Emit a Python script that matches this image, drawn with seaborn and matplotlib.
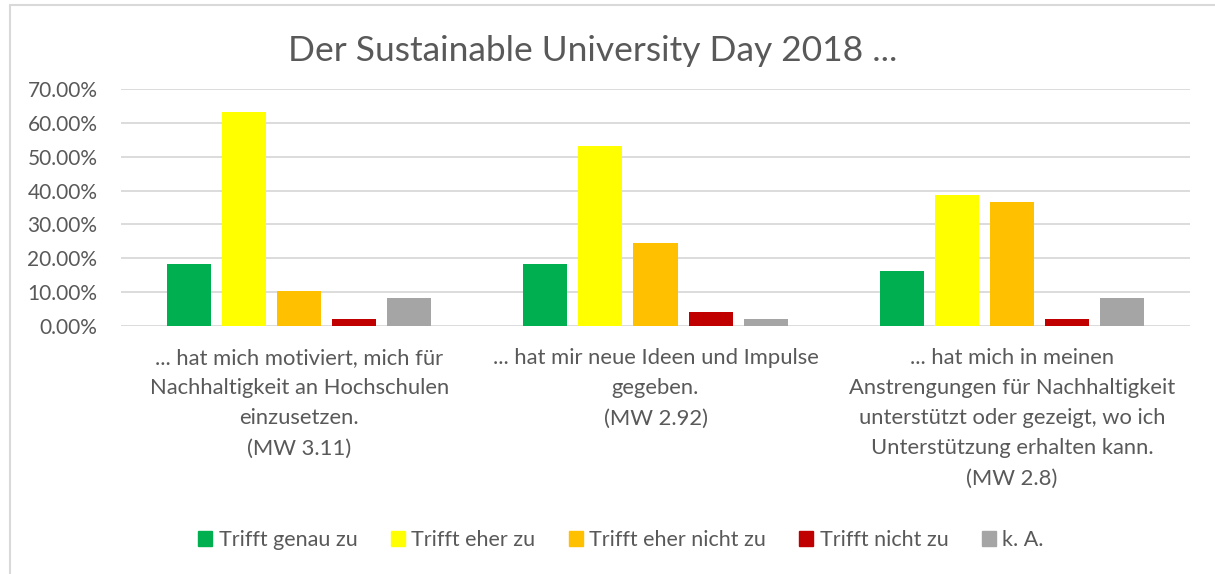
import numpy as np
import pandas as pd
import matplotlib
matplotlib.use("Agg")
import matplotlib.pyplot as plt
from matplotlib.lines import Line2D
from matplotlib.ticker import FuncFormatter
import seaborn as sns

sns.set_theme(style="white")
plt.rcParams['font.family'] = ['Lato', 'DejaVu Sans']

# data (share of answers)
questions = [
    "... hat mich motiviert, mich für\nNachhaltigkeit an Hochschulen\neinzusetzen.\n(MW 3.11)",
    "... hat mir neue Ideen und Impulse\ngegeben.\n(MW 2.92)",
    "... hat mich in meinen\nAnstrengungen für Nachhaltigkeit\nunterstützt oder gezeigt, wo ich\nUnterstützung erhalten kann.\n(MW 2.8)",
]
answers = ["Trifft genau zu", "Trifft eher zu", "Trifft eher nicht zu", "Trifft nicht zu", "k. A."]
genau_zu = [0.1837, 0.1837, 0.1633]
eher_zu = [0.6327, 0.5306, 0.3878]
eher_nicht_zu = [0.1020, 0.2449, 0.3673]
nicht_zu = [0.0204, 0.0408, 0.0204]
k_a = [0.0816, 0.0204, 0.0816]
colors = ["#00B050", "#FFFF00", "#FFC000", "#C00000", "#A5A5A5"]

values = [genau_zu, eher_zu, eher_nicht_zu, nicht_zu, k_a]
rows = []
for ans, vals in zip(answers, values):
    for q, v in zip(questions, vals):
        rows.append({"frage": q, "antwort": ans, "anteil": v})
df = pd.DataFrame(rows)

txt = "#595959"
fig = plt.figure(figsize=(12.15, 5.74), dpi=100)
ax = fig.add_axes([121/1215, 1-326/574, (1190-121)/1215, (326-89)/574])

sns.barplot(data=df, x="frage", y="anteil", hue="antwort", order=questions,
            hue_order=answers, palette=colors, width=0.772, gap=0.2,
            linewidth=0, saturation=1, ax=ax)

ax.set_ylim(0, 0.70)
ax.set_yticks(np.arange(0, 0.71, 0.1))
ax.yaxis.set_major_formatter(FuncFormatter(lambda v, p: f"{v*100:.2f}%"))
ax.yaxis.grid(True, color="#D9D9D9", lw=1.3)
ax.set_axisbelow(True)
for s in ax.spines.values():
    s.set_visible(False)
ax.set_xlabel("")
ax.set_ylabel("")
ax.tick_params(axis="y", length=0, pad=17, labelsize=15, labelcolor=txt)
ax.tick_params(axis="x", length=0, pad=16, labelsize=15.8, labelcolor=txt)
for lab in ax.get_xticklabels():
    lab.set_linespacing(1.63)

ax.legend_.remove()
handles = [plt.Rectangle((0, 0), 1, 1, color=c) for c in colors]
fig.legend(handles, answers, loc="center", bbox_to_anchor=(621/1215, 1-540/574),
           ncol=5, frameon=False, fontsize=15.5, labelcolor=txt,
           handlelength=0.65, handleheight=0.65, handletextpad=0.3, columnspacing=1.55)

fig.suptitle("Der Sustainable University Day 2018 ...", x=0.488, y=1-51/574,
             va="center", fontsize=25.5, color=txt)

# chart frame
fig.add_artist(Line2D([10/1215, 1], [1-5/574, 1-5/574], color="#D9D9D9", lw=1.5))
fig.add_artist(Line2D([10/1215, 10/1215], [0, 1-5/574], color="#D9D9D9", lw=1.5))

fig.savefig("out.png", dpi=100)
